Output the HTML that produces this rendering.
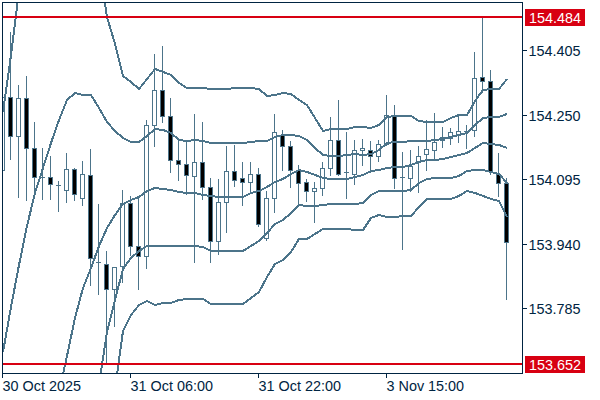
<!DOCTYPE html>
<html><head><meta charset="utf-8"><style>
html,body{margin:0;padding:0;background:#fff;width:600px;height:400px;overflow:hidden}
svg{display:block}
text{font-family:"Liberation Sans",sans-serif;font-size:14.4px}
</style></head><body>
<svg width="600" height="400" viewBox="0 0 600 400">
<defs><clipPath id="cp"><rect x="3" y="3" width="519" height="370"/></clipPath></defs>
<rect width="600" height="400" fill="#fff"/>
<g clip-path="url(#cp)" shape-rendering="crispEdges">
<rect x="2" y="90" width="1" height="86" fill="#4c748a"/>
<rect x="0" y="97" width="5" height="74" fill="#4c748a"/>
<rect x="1" y="98" width="3" height="72" fill="#fff"/>
<rect x="10" y="32" width="1" height="128" fill="#4c748a"/>
<rect x="8" y="97" width="5" height="40" fill="#4c748a"/>
<rect x="9" y="98" width="3" height="38" fill="#000"/>
<rect x="18" y="85" width="1" height="113" fill="#4c748a"/>
<rect x="16" y="98" width="5" height="39" fill="#4c748a"/>
<rect x="17" y="99" width="3" height="37" fill="#fff"/>
<rect x="26" y="76" width="1" height="125" fill="#4c748a"/>
<rect x="24" y="98" width="5" height="51" fill="#4c748a"/>
<rect x="25" y="99" width="3" height="49" fill="#000"/>
<rect x="34" y="122" width="1" height="71" fill="#4c748a"/>
<rect x="32" y="148" width="5" height="30" fill="#4c748a"/>
<rect x="33" y="149" width="3" height="28" fill="#000"/>
<rect x="42" y="148" width="1" height="52" fill="#4c748a"/>
<rect x="40" y="177" width="5" height="1" fill="#4c748a"/>
<rect x="50" y="156" width="1" height="44" fill="#4c748a"/>
<rect x="48" y="177" width="5" height="8" fill="#4c748a"/>
<rect x="49" y="178" width="3" height="6" fill="#000"/>
<rect x="58" y="181" width="1" height="31" fill="#4c748a"/>
<rect x="56" y="185" width="5" height="1" fill="#4c748a"/>
<rect x="66" y="153" width="1" height="50" fill="#4c748a"/>
<rect x="64" y="169" width="5" height="22" fill="#4c748a"/>
<rect x="65" y="170" width="3" height="20" fill="#fff"/>
<rect x="74" y="168" width="1" height="33" fill="#4c748a"/>
<rect x="72" y="169" width="5" height="26" fill="#4c748a"/>
<rect x="73" y="170" width="3" height="24" fill="#000"/>
<rect x="82" y="161" width="1" height="45" fill="#4c748a"/>
<rect x="80" y="174" width="5" height="25" fill="#4c748a"/>
<rect x="81" y="175" width="3" height="23" fill="#fff"/>
<rect x="90" y="149" width="1" height="137" fill="#4c748a"/>
<rect x="88" y="175" width="5" height="84" fill="#4c748a"/>
<rect x="89" y="176" width="3" height="82" fill="#000"/>
<rect x="98" y="204" width="1" height="91" fill="#4c748a"/>
<rect x="96" y="262" width="5" height="1" fill="#4c748a"/>
<rect x="106" y="251" width="1" height="112" fill="#4c748a"/>
<rect x="104" y="264" width="5" height="26" fill="#4c748a"/>
<rect x="105" y="265" width="3" height="24" fill="#000"/>
<rect x="114" y="267" width="1" height="60" fill="#4c748a"/>
<rect x="112" y="267" width="5" height="23" fill="#4c748a"/>
<rect x="113" y="268" width="3" height="21" fill="#fff"/>
<rect x="122" y="190" width="1" height="93" fill="#4c748a"/>
<rect x="120" y="203" width="5" height="64" fill="#4c748a"/>
<rect x="121" y="204" width="3" height="62" fill="#fff"/>
<rect x="130" y="196" width="1" height="60" fill="#4c748a"/>
<rect x="128" y="203" width="5" height="44" fill="#4c748a"/>
<rect x="129" y="204" width="3" height="42" fill="#000"/>
<rect x="138" y="198" width="1" height="92" fill="#4c748a"/>
<rect x="136" y="246" width="5" height="11" fill="#4c748a"/>
<rect x="137" y="247" width="3" height="9" fill="#000"/>
<rect x="146" y="120" width="1" height="149" fill="#4c748a"/>
<rect x="144" y="125" width="5" height="132" fill="#4c748a"/>
<rect x="145" y="126" width="3" height="130" fill="#fff"/>
<rect x="154" y="54" width="1" height="93" fill="#4c748a"/>
<rect x="152" y="90" width="5" height="36" fill="#4c748a"/>
<rect x="153" y="91" width="3" height="34" fill="#fff"/>
<rect x="162" y="46" width="1" height="77" fill="#4c748a"/>
<rect x="160" y="90" width="5" height="27" fill="#4c748a"/>
<rect x="161" y="91" width="3" height="25" fill="#000"/>
<rect x="170" y="98" width="1" height="75" fill="#4c748a"/>
<rect x="168" y="116" width="5" height="45" fill="#4c748a"/>
<rect x="169" y="117" width="3" height="43" fill="#000"/>
<rect x="178" y="139" width="1" height="42" fill="#4c748a"/>
<rect x="176" y="160" width="5" height="5" fill="#4c748a"/>
<rect x="177" y="161" width="3" height="3" fill="#000"/>
<rect x="186" y="141" width="1" height="54" fill="#4c748a"/>
<rect x="184" y="164" width="5" height="12" fill="#4c748a"/>
<rect x="185" y="165" width="3" height="10" fill="#000"/>
<rect x="194" y="114" width="1" height="149" fill="#4c748a"/>
<rect x="192" y="162" width="5" height="15" fill="#4c748a"/>
<rect x="193" y="163" width="3" height="13" fill="#fff"/>
<rect x="202" y="122" width="1" height="78" fill="#4c748a"/>
<rect x="200" y="162" width="5" height="26" fill="#4c748a"/>
<rect x="201" y="163" width="3" height="24" fill="#000"/>
<rect x="210" y="178" width="1" height="85" fill="#4c748a"/>
<rect x="208" y="187" width="5" height="55" fill="#4c748a"/>
<rect x="209" y="188" width="3" height="53" fill="#000"/>
<rect x="218" y="179" width="1" height="76" fill="#4c748a"/>
<rect x="216" y="202" width="5" height="40" fill="#4c748a"/>
<rect x="217" y="203" width="3" height="38" fill="#fff"/>
<rect x="226" y="146" width="1" height="87" fill="#4c748a"/>
<rect x="224" y="171" width="5" height="32" fill="#4c748a"/>
<rect x="225" y="172" width="3" height="30" fill="#fff"/>
<rect x="234" y="145" width="1" height="42" fill="#4c748a"/>
<rect x="232" y="171" width="5" height="10" fill="#4c748a"/>
<rect x="233" y="172" width="3" height="8" fill="#000"/>
<rect x="242" y="162" width="1" height="44" fill="#4c748a"/>
<rect x="240" y="178" width="5" height="5" fill="#4c748a"/>
<rect x="241" y="179" width="3" height="3" fill="#000"/>
<rect x="250" y="162" width="1" height="31" fill="#4c748a"/>
<rect x="248" y="174" width="5" height="9" fill="#4c748a"/>
<rect x="249" y="175" width="3" height="7" fill="#fff"/>
<rect x="258" y="168" width="1" height="59" fill="#4c748a"/>
<rect x="256" y="174" width="5" height="51" fill="#4c748a"/>
<rect x="257" y="175" width="3" height="49" fill="#000"/>
<rect x="266" y="191" width="1" height="50" fill="#4c748a"/>
<rect x="264" y="198" width="5" height="41" fill="#4c748a"/>
<rect x="265" y="199" width="3" height="39" fill="#fff"/>
<rect x="274" y="114" width="1" height="99" fill="#4c748a"/>
<rect x="272" y="132" width="5" height="67" fill="#4c748a"/>
<rect x="273" y="133" width="3" height="65" fill="#fff"/>
<rect x="282" y="130" width="1" height="41" fill="#4c748a"/>
<rect x="280" y="135" width="5" height="12" fill="#4c748a"/>
<rect x="281" y="136" width="3" height="10" fill="#000"/>
<rect x="290" y="141" width="1" height="47" fill="#4c748a"/>
<rect x="288" y="146" width="5" height="25" fill="#4c748a"/>
<rect x="289" y="147" width="3" height="23" fill="#000"/>
<rect x="298" y="165" width="1" height="40" fill="#4c748a"/>
<rect x="296" y="170" width="5" height="14" fill="#4c748a"/>
<rect x="297" y="171" width="3" height="12" fill="#000"/>
<rect x="306" y="179" width="1" height="23" fill="#4c748a"/>
<rect x="304" y="182" width="5" height="10" fill="#4c748a"/>
<rect x="305" y="183" width="3" height="8" fill="#000"/>
<rect x="314" y="182" width="1" height="41" fill="#4c748a"/>
<rect x="312" y="188" width="5" height="4" fill="#4c748a"/>
<rect x="313" y="189" width="3" height="2" fill="#fff"/>
<rect x="322" y="162" width="1" height="34" fill="#4c748a"/>
<rect x="320" y="168" width="5" height="21" fill="#4c748a"/>
<rect x="321" y="169" width="3" height="19" fill="#fff"/>
<rect x="330" y="117" width="1" height="59" fill="#4c748a"/>
<rect x="328" y="140" width="5" height="29" fill="#4c748a"/>
<rect x="329" y="141" width="3" height="27" fill="#fff"/>
<rect x="338" y="100" width="1" height="76" fill="#4c748a"/>
<rect x="336" y="140" width="5" height="35" fill="#4c748a"/>
<rect x="337" y="141" width="3" height="33" fill="#000"/>
<rect x="346" y="132" width="1" height="67" fill="#4c748a"/>
<rect x="344" y="172" width="5" height="1" fill="#4c748a"/>
<rect x="354" y="140" width="1" height="45" fill="#4c748a"/>
<rect x="352" y="150" width="5" height="25" fill="#4c748a"/>
<rect x="353" y="151" width="3" height="23" fill="#fff"/>
<rect x="362" y="139" width="1" height="27" fill="#4c748a"/>
<rect x="360" y="148" width="5" height="3" fill="#4c748a"/>
<rect x="361" y="149" width="3" height="1" fill="#fff"/>
<rect x="370" y="141" width="1" height="32" fill="#4c748a"/>
<rect x="368" y="150" width="5" height="7" fill="#4c748a"/>
<rect x="369" y="151" width="3" height="5" fill="#000"/>
<rect x="378" y="140" width="1" height="22" fill="#4c748a"/>
<rect x="376" y="144" width="5" height="13" fill="#4c748a"/>
<rect x="377" y="145" width="3" height="11" fill="#fff"/>
<rect x="386" y="95" width="1" height="51" fill="#4c748a"/>
<rect x="384" y="115" width="5" height="30" fill="#4c748a"/>
<rect x="385" y="116" width="3" height="28" fill="#fff"/>
<rect x="394" y="105" width="1" height="84" fill="#4c748a"/>
<rect x="392" y="116" width="5" height="63" fill="#4c748a"/>
<rect x="393" y="117" width="3" height="61" fill="#000"/>
<rect x="402" y="152" width="1" height="98" fill="#4c748a"/>
<rect x="400" y="177" width="5" height="1" fill="#4c748a"/>
<rect x="410" y="150" width="1" height="42" fill="#4c748a"/>
<rect x="408" y="166" width="5" height="13" fill="#4c748a"/>
<rect x="409" y="167" width="3" height="11" fill="#fff"/>
<rect x="418" y="146" width="1" height="47" fill="#4c748a"/>
<rect x="416" y="156" width="5" height="7" fill="#4c748a"/>
<rect x="417" y="157" width="3" height="5" fill="#fff"/>
<rect x="426" y="120" width="1" height="51" fill="#4c748a"/>
<rect x="424" y="149" width="5" height="6" fill="#4c748a"/>
<rect x="425" y="150" width="3" height="4" fill="#fff"/>
<rect x="434" y="113" width="1" height="47" fill="#4c748a"/>
<rect x="432" y="142" width="5" height="9" fill="#4c748a"/>
<rect x="433" y="143" width="3" height="7" fill="#fff"/>
<rect x="442" y="127" width="1" height="21" fill="#4c748a"/>
<rect x="440" y="137" width="5" height="4" fill="#4c748a"/>
<rect x="441" y="138" width="3" height="2" fill="#fff"/>
<rect x="450" y="128" width="1" height="17" fill="#4c748a"/>
<rect x="448" y="132" width="5" height="7" fill="#4c748a"/>
<rect x="449" y="133" width="3" height="5" fill="#fff"/>
<rect x="458" y="114" width="1" height="29" fill="#4c748a"/>
<rect x="456" y="131" width="5" height="4" fill="#4c748a"/>
<rect x="457" y="132" width="3" height="2" fill="#fff"/>
<rect x="466" y="125" width="1" height="24" fill="#4c748a"/>
<rect x="464" y="131" width="5" height="1" fill="#4c748a"/>
<rect x="474" y="52" width="1" height="85" fill="#4c748a"/>
<rect x="472" y="78" width="5" height="53" fill="#4c748a"/>
<rect x="473" y="79" width="3" height="51" fill="#fff"/>
<rect x="482" y="18" width="1" height="75" fill="#4c748a"/>
<rect x="480" y="77" width="5" height="5" fill="#4c748a"/>
<rect x="481" y="78" width="3" height="3" fill="#000"/>
<rect x="490" y="70" width="1" height="105" fill="#4c748a"/>
<rect x="488" y="81" width="5" height="91" fill="#4c748a"/>
<rect x="489" y="82" width="3" height="89" fill="#000"/>
<rect x="498" y="153" width="1" height="44" fill="#4c748a"/>
<rect x="496" y="174" width="5" height="10" fill="#4c748a"/>
<rect x="497" y="175" width="3" height="8" fill="#000"/>
<rect x="506" y="178" width="1" height="122" fill="#4c748a"/>
<rect x="504" y="183" width="5" height="60" fill="#4c748a"/>
<rect x="505" y="184" width="3" height="58" fill="#000"/>
</g>
<g clip-path="url(#cp)" shape-rendering="crispEdges">
<polyline points="3,112 11,55 19,-9 27,-60 35,-60 43,-60 51,-60 59,-60 67,-60 75,-60 83,-60 91,-60 99,-37 107,17 115,44 123,76 131,82 139,89 147,79 155,69 163,72 171,75 179,83 187,88 195,88 203,88 211,89 219,89 227,89 235,88 243,88 251,88 259,89 267,96 275,95 283,93 291,94 299,100 307,105 315,118 323,131 331,129 339,129 347,129 355,127 363,127 371,128 379,125 387,117 395,116 403,116 411,116 419,121 427,122 435,122 443,122 451,118 459,115 467,115 475,101 483,90 491,89 499,89 507,79" fill="none" stroke="#4c748a" stroke-width="2" stroke-linejoin="round"/>
<polyline points="3,352 11,307 19,265 27,226 35,193 43,168 51,143 59,120 67,100 75,93 83,95 91,95 99,108 107,122 115,131 123,138 131,142 139,142 147,136 155,129 163,130 171,133 179,140 187,141 195,140 203,141 211,143 219,143 227,143 235,143 243,143 251,142 259,141 267,141 275,137 283,135 291,135 299,136 307,140 315,148 323,155 331,156 339,156 347,155 355,154 363,155 371,154 379,150 387,143 395,142 403,142 411,141 419,141 427,141 435,140 443,139 451,137 459,135 467,133 475,125 483,118 491,117 499,117 507,114" fill="none" stroke="#4c748a" stroke-width="2" stroke-linejoin="round"/>
<polyline points="3,700 11,650 19,600 27,560 35,520 43,480 51,440 59,392 67,356 75,318 83,288 91,268 99,246 107,228 115,215 123,204 131,200 139,197 147,191 155,188 163,189 171,190 179,192 187,193 195,193 203,195 211,196 219,197 227,197 235,197 243,197 251,193 259,191 267,187 275,182 283,179 291,174 299,170 307,172 315,175 323,178 331,179 339,179 347,179 355,177 363,175 371,171 379,170 387,168 395,167 403,167 411,165 419,162 427,160 435,160 443,159 451,157 459,155 467,153 475,148 483,143 491,144 499,145 507,148" fill="none" stroke="#4c748a" stroke-width="2" stroke-linejoin="round"/>
<polyline points="3,900 11,850 19,800 27,760 35,720 43,680 51,640 59,600 67,560 75,520 83,480 91,430 99,384 107,332 115,300 123,269 131,258 139,251 147,246 155,246 163,246 171,246 179,246 187,246 195,246 203,247 211,251 219,251 227,251 235,251 243,251 251,246 259,241 267,233 275,224 283,220 291,213 299,205 307,206 315,206 323,205 331,204 339,204 347,204 355,204 363,203 371,195 379,191 387,191 395,191 403,191 411,190 419,183 427,179 435,178 443,178 451,178 459,176 467,171 475,170 483,170 491,172 499,174 507,183" fill="none" stroke="#4c748a" stroke-width="2" stroke-linejoin="round"/>
<polyline points="3,1100 11,1050 19,1000 27,950 35,900 43,850 51,800 59,750 67,700 75,650 83,600 91,550 99,500 107,450 115,389 123,331 131,315 139,305 147,301 155,305 163,303 171,303 179,300 187,299 195,299 203,299 211,304 219,304 227,304 235,304 243,304 251,298 259,292 267,277 275,264 283,260 291,252 299,239 307,239 315,234 323,229 331,229 339,229 347,229 355,230 363,230 371,218 379,215 387,217 395,217 403,216 411,216 419,207 427,199 435,199 443,199 451,199 459,196 467,191 475,193 483,196 491,199 499,201 507,217" fill="none" stroke="#4c748a" stroke-width="2" stroke-linejoin="round"/>
</g>
<g shape-rendering="crispEdges">
<rect x="3" y="16" width="519" height="2" fill="#d80012"/>
<rect x="3" y="363" width="519" height="2" fill="#d80012"/>
<rect x="2" y="2" width="521" height="1" fill="#002442"/>
<rect x="2" y="373" width="521" height="1" fill="#002442"/>
<rect x="2" y="2" width="1" height="372" fill="#002442"/>
<rect x="522" y="2" width="1" height="372" fill="#002442"/>
<rect x="523" y="50" width="4" height="1" fill="#002442"/>
<rect x="523" y="115" width="4" height="1" fill="#002442"/>
<rect x="523" y="179" width="4" height="1" fill="#002442"/>
<rect x="523" y="244" width="4" height="1" fill="#002442"/>
<rect x="523" y="308" width="4" height="1" fill="#002442"/>
<rect x="2" y="374" width="1" height="4" fill="#002442"/>
<rect x="130" y="374" width="1" height="4" fill="#002442"/>
<rect x="258" y="374" width="1" height="4" fill="#002442"/>
<rect x="386" y="374" width="1" height="4" fill="#002442"/>
<rect x="525" y="9" width="60" height="17" fill="#d80012"/>
<rect x="525" y="356" width="60" height="17" fill="#d80012"/>
</g>
<text x="528.5" y="55.5" fill="#002442">154.405</text>
<text x="528.5" y="120.5" fill="#002442">154.250</text>
<text x="528.5" y="184.5" fill="#002442">154.095</text>
<text x="528.5" y="249.5" fill="#002442">153.940</text>
<text x="528.5" y="313.5" fill="#002442">153.785</text>
<text x="529" y="22.5" fill="#fff">154.484</text>
<text x="529" y="369.5" fill="#fff">153.652</text>
<text x="2.5" y="391" fill="#002442">30 Oct 2025</text>
<text x="130.5" y="391" fill="#002442">31 Oct 06:00</text>
<text x="258.5" y="391" fill="#002442">31 Oct 22:00</text>
<text x="386.5" y="391" fill="#002442">3 Nov 15:00</text>
</svg>
</body></html>
